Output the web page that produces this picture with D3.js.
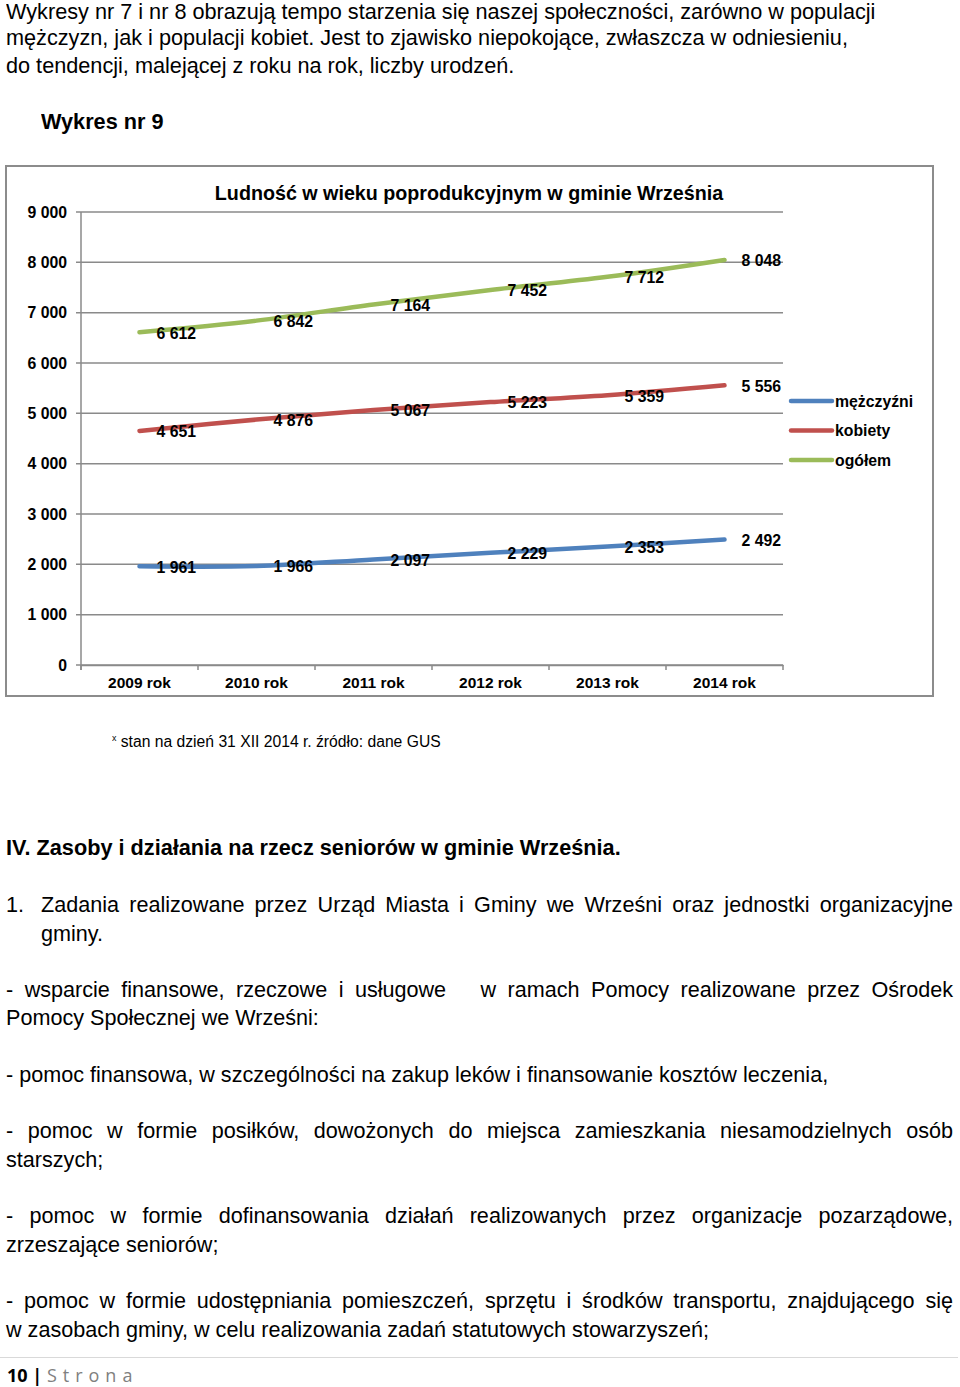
<!DOCTYPE html>
<html>

<head>
  <meta charset="utf-8">
  <script src="https://d3js.org/d3.v7.min.js"></script>
  <style>
    body {
      margin: 0;
      width: 960px;
      height: 1387px;
      position: relative;
      background: #fff;
      font-family: "Liberation Sans", Arial, sans-serif;
      color: #000;
      overflow: hidden;
    }
    .ln {
      position: absolute;
      font-size: 21.6px;
      line-height: 28px;
      white-space: nowrap;
    }
    .narrow {
      transform-origin: 0 0;
      transform: scaleX(0.985);
      font-size: 22px;
    }
    .just {
      text-align: justify;
      text-align-last: justify;
      white-space: normal;
    }
    svg {
      position: absolute;
      left: 0;
      top: 0;
    }
    svg text {
      font-family: "Liberation Sans", Arial, sans-serif;
      font-weight: bold;
    }
  </style>
</head>

<body>
  <div class="ln narrow" style="left:6px; top:-2px">Wykresy nr 7 i nr 8 obrazują tempo starzenia się naszej społeczności, zarówno w populacji</div>
  <div class="ln narrow" style="left:6px; top:24px">mężczyzn, jak i populacji kobiet. Jest to zjawisko niepokojące, zwłaszcza w odniesieniu,</div>
  <div class="ln narrow" style="left:6px; top:52px">do tendencji, malejącej z roku na rok, liczby urodzeń.</div>
  <div class="ln narrow" style="left:41px; top:108px; font-weight:bold">Wykres nr 9</div>

  <div class="ln narrow" style="left:112px; top:726px; font-size:16px; line-height:24px; transform:scaleX(0.98)"><sup style="font-size:9px">x</sup> stan na dzień 31 XII 2014 r. źródło: dane GUS</div>

  <div class="ln" style="left:6px; top:834px; font-size:21.7px; font-weight:bold">IV. Zasoby i działania na rzecz seniorów w gminie Września.</div>

  <div class="ln" style="left:6px; top:891px">1.</div>
  <div class="ln just" style="left:41px; top:891px; width:912px">Zadania realizowane przez Urząd Miasta i Gminy we Wrześni oraz jednostki organizacyjne</div>
  <div class="ln" style="left:41px; top:920px">gminy.</div>

  <div class="ln just" style="left:6px; top:976px; width:947px">- wsparcie finansowe, rzeczowe i usługowe&nbsp;&nbsp; w ramach Pomocy realizowane przez Ośrodek</div>
  <div class="ln" style="left:6px; top:1004px">Pomocy Społecznej we Wrześni:</div>

  <div class="ln" style="left:6px; top:1061px">- pomoc finansowa, w szczególności na zakup leków i finansowanie kosztów leczenia,</div>

  <div class="ln just" style="left:6px; top:1117px; width:947px">- pomoc w formie posiłków, dowożonych do miejsca zamieszkania niesamodzielnych osób</div>
  <div class="ln" style="left:6px; top:1146px">starszych;</div>

  <div class="ln just" style="left:6px; top:1202px; width:947px">- pomoc w formie dofinansowania działań realizowanych przez organizacje pozarządowe,</div>
  <div class="ln" style="left:6px; top:1231px">zrzeszające seniorów;</div>

  <div class="ln just" style="left:6px; top:1287px; width:947px">- pomoc w formie udostępniania pomieszczeń, sprzętu i środków transportu, znajdującego się</div>
  <div class="ln" style="left:6px; top:1316px">w zasobach gminy, w celu realizowania zadań statutowych stowarzyszeń;</div>

  <div style="position:absolute; left:0; top:1357px; width:958px; height:1px; background:#d9d9d9"></div>
  <div class="ln" style="left:7px; top:1361px; font-family:'Open Sans', sans-serif; font-size:18px"><b>10 |</b> <span style="color:#808080; letter-spacing:6px">Strona</span></div>

  <script>
    const width = 960;
    const height = 1387;

    // dane z wykresu
    const years = ["2009 rok", "2010 rok", "2011 rok", "2012 rok", "2013 rok", "2014 rok"];
    const men = [1961, 1966, 2097, 2229, 2353, 2492];
    const women = [4651, 4876, 5067, 5223, 5359, 5556];
    const total = [6612, 6842, 7164, 7452, 7712, 8048];
    const seriesNames = ["mężczyźni", "kobiety", "ogółem"];
    const seriesColors = ["#4f81bd", "#c0504d", "#9bbb59"];
    const yTicks = [0, 1000, 2000, 3000, 4000, 5000, 6000, 7000, 8000, 9000];

    const series = [men, women, total];

    const pl = d3.formatLocale({ decimal: ",", thousands: " ", grouping: [3], currency: ["", " zł"] });
    const fmt = pl.format(",d");

    const svg = d3.select("body")
      .append("svg")
      .attr("width", width)
      .attr("height", height);

    // ramka wykresu
    svg.append("rect")
      .attr("x", 6)
      .attr("y", 166)
      .attr("width", 927)
      .attr("height", 530)
      .attr("fill", "none")
      .attr("stroke", "#8c8c8c")
      .attr("stroke-width", 2);

    const x = d3.scaleBand()
      .domain(years)
      .range([81, 783]);

    const y = d3.scaleLinear()
      .domain([0, 9000])
      .range([665, 212]);

    // siatka
    svg.append("g")
      .selectAll("line")
      .data(yTicks)
      .enter()
      .append("line")
      .attr("x1", 76)
      .attr("x2", 783)
      .attr("y1", d => y(d))
      .attr("y2", d => y(d))
      .attr("stroke", "#8a8a8a")
      .attr("stroke-width", 1.5);

    // oś Y
    svg.append("line")
      .attr("x1", 81).attr("x2", 81)
      .attr("y1", y(9000)).attr("y2", y(0) + 5)
      .attr("stroke", "#8a8a8a")
      .attr("stroke-width", 1.5);

    svg.append("g")
      .selectAll("text")
      .data(yTicks)
      .enter()
      .append("text")
      .attr("x", 67)
      .attr("y", d => y(d))
      .attr("dy", "0.35em")
      .attr("text-anchor", "end")
      .attr("font-size", 15.8)
      .text(d => fmt(d));

    // oś X
    const xAxis = svg.append("g")
      .attr("transform", `translate(0,${y(0)})`)
      .call(d3.axisBottom(x).tickSize(0).tickPadding(12));
    xAxis.select(".domain").attr("stroke", "#8a8a8a").attr("stroke-width", 1.5);
    xAxis.selectAll("text")
      .attr("font-size", 15.5)
      .attr("font-family", "Liberation Sans, Arial, sans-serif")
      .attr("font-weight", "bold")
      .attr("fill", "#000");

    svg.append("g")
      .selectAll("line")
      .data(years.concat([null]))
      .enter()
      .append("line")
      .attr("x1", (d, i) => i < years.length ? x(d) : x.range()[1])
      .attr("x2", (d, i) => i < years.length ? x(d) : x.range()[1])
      .attr("y1", y(0))
      .attr("y2", y(0) + 5)
      .attr("stroke", "#8a8a8a")
      .attr("stroke-width", 1.5);

    // tytuł
    svg.append("text")
      .attr("x", 469)
      .attr("y", 193)
      .attr("dy", "0.35em")
      .attr("text-anchor", "middle")
      .attr("font-size", 19.7)
      .text("Ludność w wieku poprodukcyjnym w gminie Września");

    // linie
    const line = d3.line()
      .x((d, i) => x(years[i]) + x.bandwidth() / 2)
      .y(d => y(d))
      .curve(d3.curveCatmullRom.alpha(0.5));

    svg.append("g")
      .selectAll("path")
      .data(series)
      .enter()
      .append("path")
      .attr("d", line)
      .attr("fill", "none")
      .attr("stroke", (d, i) => seriesColors[i])
      .attr("stroke-width", 4.5)
      .attr("stroke-linecap", "round");

    // etykiety danych
    series.forEach(s => {
      svg.append("g")
        .selectAll("text")
        .data(s)
        .enter()
        .append("text")
        .attr("x", (d, i) => x(years[i]) + x.bandwidth() / 2 + 17)
        .attr("y", d => y(d))
        .attr("dy", "0.4em")
        .attr("font-size", 15.8)
        .text(d => fmt(d));
    });

    // legenda
    const legend = svg.append("g")
      .selectAll("g")
      .data(seriesNames)
      .enter()
      .append("g")
      .attr("transform", (d, i) => `translate(791,${401 + i * 29.5})`);

    legend.append("line")
      .attr("x1", 0)
      .attr("x2", 41)
      .attr("stroke", (d, i) => seriesColors[i])
      .attr("stroke-width", 4.5)
      .attr("stroke-linecap", "round");

    legend.append("text")
      .attr("x", 44)
      .attr("dy", "0.35em")
      .attr("font-size", 15.8)
      .text(d => d);
  </script>
</body>

</html>
